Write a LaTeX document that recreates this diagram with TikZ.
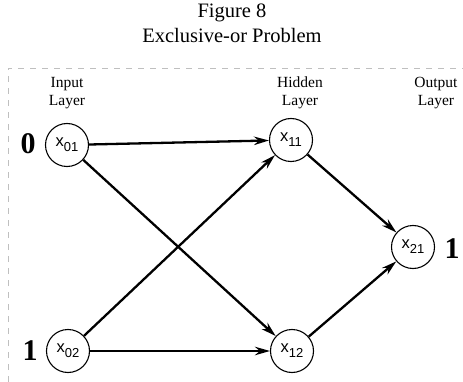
\documentclass[tikz,border=0pt]{standalone}
\usepackage{fontspec}
\setmainfont{Liberation Serif}
\newfontfamily\nodefont{Liberation Sans}
\usetikzlibrary{arrows.meta}
\newcommand{\nlab}[1]{x\raisebox{-0.3em}{\fontsize{13}{13}\selectfont #1}}
\begin{document}
\begin{tikzpicture}[x=1pt,y=-1pt,
  neuron/.style={circle,draw,line width=1.1pt,minimum size=43pt,inner sep=0pt,font=\nodefont\fontsize{16.5}{16.5}\selectfont},
  conn/.style={line width=2.3pt,-{Stealth[length=15pt,width=8.5pt]}},
  layerlab/.style={align=center,font=\fontsize{15.5}{18}\selectfont},
  titlefont/.style={anchor=base,font=\fontsize{20.5}{20.5}\selectfont},
  bit/.style={font=\bfseries\fontsize{30}{30}\selectfont},
  frame/.style={gray!50,line width=0.5pt,dash pattern=on 6pt off 6pt}]
\useasboundingbox (0,0) rectangle (463,382);
\node[titlefont] (t1) at (232,18) {Figure 8};
\node[titlefont] (t2) at (232,43) {Exclusive-or Problem};
\coordinate (fa) at (8,382);
\coordinate (fb) at (8,68);
\coordinate (fc) at (463,68);
\draw[frame] (fa) -- (fb) -- (fc);
\node[layerlab] (l0) at (67,93) {Input\\Layer};
\node[layerlab] (l1) at (300,93) {Hidden\\Layer};
\node[layerlab] (l2) at (436,93) {Output\\Layer};
\node[neuron] (x01) at (67,145) {\nlab{01}};
\node[neuron] (x02) at (68,351) {\nlab{02}};
\node[neuron] (x11) at (291,140) {\nlab{11}};
\node[neuron] (x12) at (292,351) {\nlab{12}};
\node[neuron] (x21) at (413,247) {\nlab{21}};
\node[bit] (b0) at (28,144) {0};
\node[bit] (b1) at (30,351) {1};
\node[bit] (b2) at (452,249) {1};
\draw[conn] (x01) -- (x11);
\draw[conn] (x01) -- (x12);
\draw[conn] (x02) -- (x11);
\draw[conn] (x02) -- (x12);
\draw[conn] (x11) -- (x21);
\draw[conn] (x12) -- (x21);
\end{tikzpicture}
\end{document}
